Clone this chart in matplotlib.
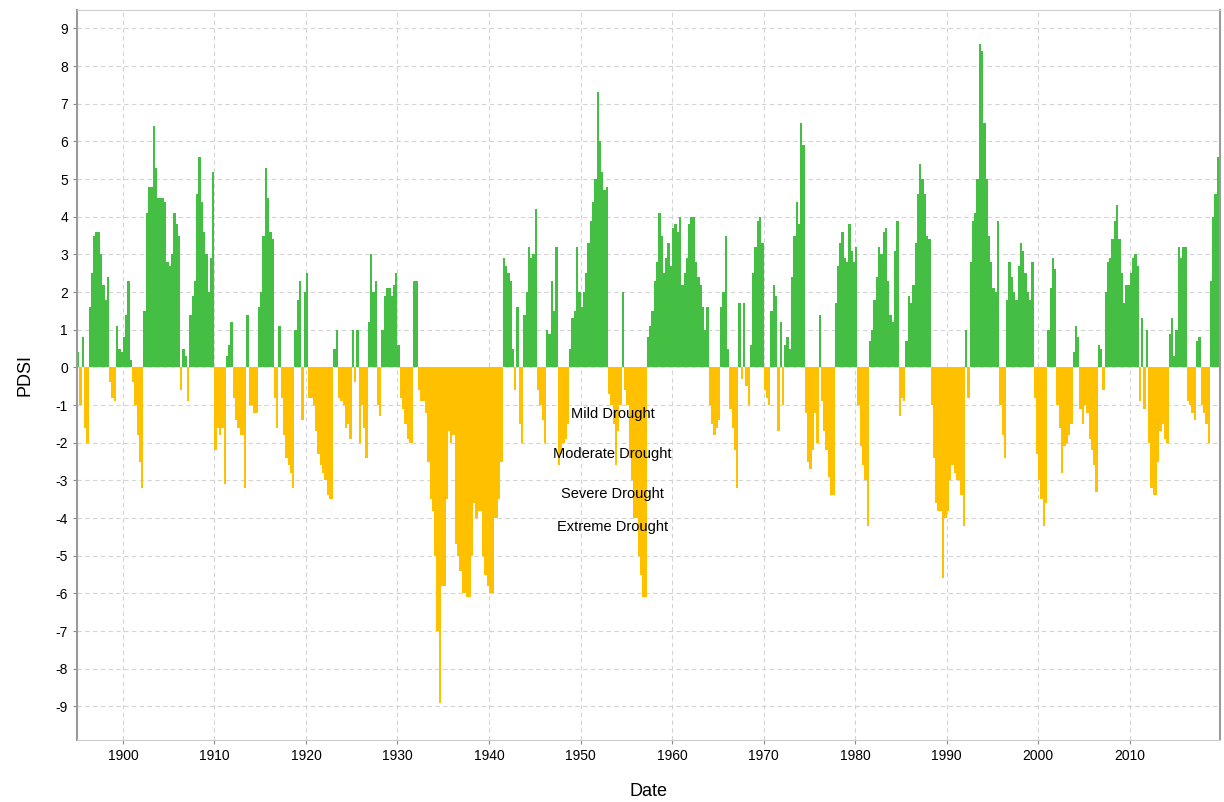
import numpy as np
import matplotlib.pyplot as plt

plt.rcParams['font.family'] = ['Liberation Sans', 'DejaVu Sans']
plt.rcParams['axes.unicode_minus'] = False

# quarterly PDSI values, one list per decade
START = 1895
pdsi_1890s = [0.4, -1.0, 0.8, -1.6,  -2.0, 1.6, 2.5, 3.5,  3.6, 3.6, 3.0, 2.2,
              1.8, 2.4, -0.4, -0.8,  -0.9, 1.1, 0.5, 0.4]
pdsi_1900s = [0.8, 1.4, 2.3, 0.2,  -0.4, -1.0, -1.8, -2.5,  -3.2, 1.5, 4.1, 4.8,
              4.8, 6.4, 5.3, 4.5,  4.5, 4.5, 4.4, 2.8,  2.7, 3.0, 4.1, 3.8,
              3.5, -0.6, 0.5, 0.3,  -0.9, 1.4, 1.9, 2.3,  4.6, 5.6, 4.4, 3.6,
              3.0, 2.0, 2.9, 5.2]
pdsi_1910s = [-2.2, -1.6, -1.8, -1.6,  -3.1, 0.3, 0.6, 1.2,  -0.8, -1.4, -1.6, -1.8,
              -1.8, -3.2, 1.4, -1.0,  -1.0, -1.2, -1.2, 1.6,  2.0, 3.5, 5.3, 4.5,
              3.6, 3.4, -0.8, -1.6,  1.1, -0.8, -1.8, -2.4,  -2.6, -2.8, -3.2, 1.0,
              1.8, 2.3, -1.4, 2.0]
pdsi_1920s = [2.5, -0.8, -0.8, -1.0,  -1.7, -2.3, -2.6, -2.8,  -3.0, -3.4, -3.5, -3.5,
              0.5, 1.0, -0.8, -0.9,  -1.0, -1.6, -1.5, -1.9,  1.0, -0.4, 1.0, -2.0,
              -1.0, -1.6, -2.4, 1.2,  3.0, 2.0, 2.3, -1.0,  -1.3, 1.0, 1.9, 2.1,
              2.1, 1.9, 2.2, 2.5]
pdsi_1930s = [0.6, -0.8, -1.1, -1.5,  -1.9, -2.0, -2.0, 2.3,  2.3, -0.6, -0.9, -0.9,
              -1.2, -2.5, -3.5, -3.8,  -5.0, -7.0, -8.9, -5.8,  -5.8, -3.5, -1.7, -2.0,
              -1.8, -4.7, -5.0, -5.4,  -6.0, -6.0, -6.1, -6.1,  -5.0, -3.6, -4.0, -3.8,
              -3.8, -5.0, -5.5, -5.8]
pdsi_1940s = [-6.0, -6.0, -4.0, -4.0,  -3.5, -2.5, 2.9, 2.7,  2.5, 2.3, 0.5, -0.6,
              1.6, -1.5, -2.0, 1.4,  2.0, 3.2, 2.9, 3.0,  4.2, -0.6, -1.0, -1.4,
              -2.0, 1.0, 0.9, 2.3,  1.5, 3.2, -2.6, -2.3,  -2.0, -1.9, -1.5, 0.5,
              1.3, 1.5, 3.2, 2.0]
pdsi_1950s = [1.6, 2.0, 2.5, 3.3,  3.9, 4.4, 5.0, 7.3,  6.0, 5.2, 4.7, 4.8,
              -0.7, -1.0, -1.5, -2.6,  -1.7, -1.0, 2.0, -0.6,  -1.0, -2.4, -3.0, -4.0,
              -4.0, -5.0, -5.5, -6.1,  -6.1, 0.8, 1.1, 1.5,  2.3, 2.8, 4.1, 3.5,
              2.5, 2.9, 3.3, 2.7]
pdsi_1960s = [3.7, 3.8, 3.6, 4.0,  2.2, 2.5, 2.9, 3.8,  4.0, 4.0, 2.8, 2.4,
              2.2, 1.6, 1.0, 1.6,  -1.0, -1.5, -1.8, -1.6,  -1.4, 1.6, 2.0, 3.5,
              0.5, -1.1, -1.6, -2.2,  -3.2, 1.7, -0.3, 1.7,  -0.5, -1.0, 0.6, 2.5,
              3.2, 3.9, 4.0, 3.3]
pdsi_1970s = [-0.6, -0.8, -1.0, 1.5,  2.2, 1.9, -1.7, 1.2,  -1.0, 0.6, 0.8, 0.5,
              2.4, 3.5, 4.4, 3.8,  6.5, 5.9, -1.2, -2.5,  -2.7, -2.2, -1.2, -2.0,
              1.4, -0.9, -1.7, -2.2,  -2.9, -3.4, -3.4, 1.7,  2.7, 3.3, 3.6, 2.9,
              2.8, 3.8, 3.1, 2.8]
pdsi_1980s = [3.2, -1.0, -2.1, -2.6,  -3.0, -4.2, 0.7, 1.0,  1.8, 2.4, 3.2, 3.0,
              3.6, 3.7, 2.3, 1.4,  1.2, 3.1, 3.9, -1.3,  -0.8, -0.9, 0.7, 1.9,
              1.7, 2.2, 3.3, 4.6,  5.4, 5.0, 4.6, 3.5,  3.4, -1.0, -2.4, -3.6,
              -3.8, -3.8, -5.6, -4.0]
pdsi_1990s = [-3.8, -3.0, -2.6, -2.8,  -3.0, -3.0, -3.4, -4.2,  1.0, -0.8, 2.8, 3.9,
              4.1, 5.0, 8.6, 8.4,  6.5, 5.0, 3.5, 2.8,  2.1, 2.0, 3.9, -1.0,
              -1.8, -2.4, 1.8, 2.8,  2.4, 2.0, 1.8, 2.7,  3.3, 3.1, 2.5, 2.0,
              1.8, 2.8, -0.8, -2.3]
pdsi_2000s = [-3.0, -3.5, -4.2, -3.6,  1.0, 2.1, 2.9, 2.6,  -1.0, -1.6, -2.8, -2.1,
              -2.0, -1.8, -1.5, 0.4,  1.1, 0.8, -1.1, -1.5,  -1.0, -1.2, -1.9, -2.2,
              -2.6, -3.3, 0.6, 0.5,  -0.6, 2.0, 2.8, 2.9,  3.4, 3.9, 4.3, 3.4,
              2.5, 1.7, 2.2, 2.2]
pdsi_2010s = [2.5, 2.9, 3.0, 2.7,  -0.9, 1.3, -1.1, 1.0,  -2.0, -3.2, -3.4, -3.4,
              -2.5, -1.7, -1.5, -1.9,  -2.0, 0.9, 1.3, 0.3,  1.0, 3.2, 2.9, 3.2,
              3.2, -0.9, -1.0, -1.2,  -1.4, 0.7, 0.8, -1.0,  -1.2, -1.5, -2.0, 2.3,
              4.0, 4.6, 5.6]

drought_labels = ['Mild Drought', 'Moderate Drought', 'Severe Drought', 'Extreme Drought']
drought_levels = [-1.25, -2.3, -3.35, -4.25]

pdsi = np.array(pdsi_1890s + pdsi_1900s + pdsi_1910s + pdsi_1920s + pdsi_1930s +
                pdsi_1940s + pdsi_1950s + pdsi_1960s + pdsi_1970s + pdsi_1980s +
                pdsi_1990s + pdsi_2000s + pdsi_2010s)
dates = START + np.arange(len(pdsi)) * 0.25

GREEN = '#44bf44'
ORANGE = '#ffc000'
colors = [GREEN if v >= 0 else ORANGE for v in pdsi]

fig = plt.figure(figsize=(12.24, 8.02), dpi=100)
ax = fig.add_axes([0.063, 0.077, 0.934, 0.911])

ax.bar(dates, pdsi, width=0.25, align='edge', color=colors, linewidth=0, zorder=2)

for lab, lev in zip(drought_labels, drought_levels):
    ax.text(1953.5, lev, lab, ha='center', va='center', fontsize=10.5, zorder=3)

ax.set_xlim(1895, 2019.9)
ax.set_ylim(-9.9, 9.5)
ax.set_yticks(np.arange(-9, 10, 1))
ax.set_xticks(np.arange(1900, 2011, 10))
ax.tick_params(labelsize=10, length=3, color='#888888')
ax.grid(True, color='#d4d4d4', linestyle=(0, (4, 3)), linewidth=0.8, zorder=0)
ax.set_axisbelow(True)

for side in ['left', 'right']:
    ax.spines[side].set_color('#9a9a9a')
    ax.spines[side].set_linewidth(1.5)
for side in ['top', 'bottom']:
    ax.spines[side].set_color('#cccccc')
    ax.spines[side].set_linewidth(0.8)

ax.set_ylabel('PDSI', fontsize=13, labelpad=16)
ax.set_xlabel('Date', fontsize=13, labelpad=14)

fig.savefig('out.png', dpi=100)
